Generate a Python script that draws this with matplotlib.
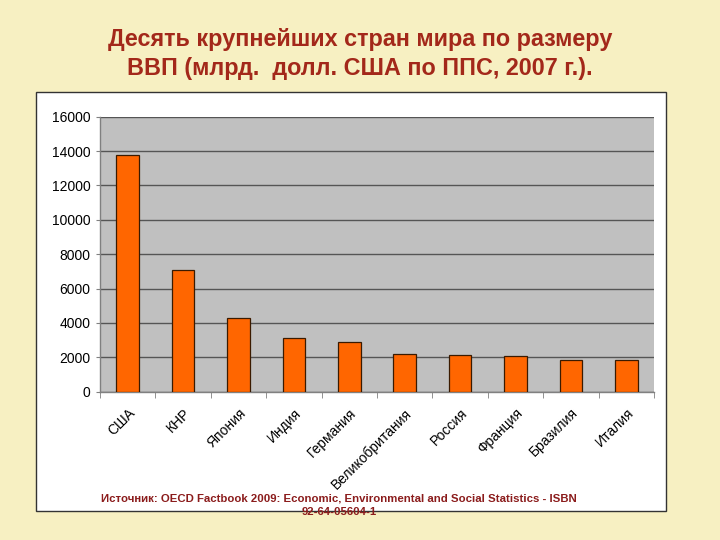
import matplotlib.pyplot as plt
from matplotlib.patches import Rectangle
import numpy as np

plt.rcParams["font.family"] = ["Liberation Sans", "DejaVu Sans"]

# GDP, bn USD at PPP, 2007
countries = ["США", "КНР", "Япония", "Индия", "Германия", "Великобритания",
             "Россия", "Франция", "Бразилия", "Италия"]
gdp = [13750, 7100, 4300, 3100, 2870, 2170, 2110, 2100, 1840, 1830]
yticks = [0, 2000, 4000, 6000, 8000, 10000, 12000, 14000, 16000]

BG = "#f7f0c2"
TITLE_C = "#a3281a"

fig = plt.figure(figsize=(7.2, 5.4), dpi=100, facecolor=BG)

# white chart frame
frame = Rectangle((36 / 720, 1 - 511 / 540), 630 / 720, 419 / 540,
                  transform=fig.transFigure, facecolor="white",
                  edgecolor="#333333", linewidth=1.0, zorder=-1)
fig.patches.append(frame)

ax = fig.add_axes([100 / 720, 1 - 391.7 / 540, 554 / 720, 275 / 540])
ax.set_zorder(2)
ax.set_facecolor("#c0c0c0")
x = np.arange(len(countries))
ax.bar(x, gdp, width=0.41, color="#ff6600", edgecolor="#3a1a00",
       linewidth=0.9, zorder=3)

ax.set_xlim(-0.5, len(countries) - 0.5)
ax.set_ylim(0, 16000)
ax.set_yticks(yticks)
ax.yaxis.grid(True, color="#555555", linewidth=1.0, zorder=1)
ax.set_axisbelow(True)

ax.set_xticks(x)
ax.set_xticklabels(countries, rotation=45, ha="right", va="top",
                   rotation_mode="anchor", fontsize=10)
ax.tick_params(axis="x", which="major", length=0, pad=10)
ax.set_xticks(np.arange(-0.5, len(countries)), minor=True)
ax.tick_params(axis="x", which="minor", length=4, color="#808080")
ax.tick_params(axis="y", length=3, color="#808080", labelsize=10, pad=4)

for s in ("top", "right"):
    ax.spines[s].set_visible(False)
for s in ("left", "bottom"):
    ax.spines[s].set_color("#808080")
    ax.spines[s].set_linewidth(1.0)

fig.text(0.5, 1 - 54 / 540,
         "Десять крупнейших стран мира по размеру\n"
         "ВВП (млрд.  долл. США по ППС, 2007 г.).",
         ha="center", va="center", fontsize=16.8, fontweight="bold",
         color=TITLE_C, linespacing=1.3)

fig.text(339 / 720, 1 - 505 / 540,
         "Источник: OECD Factbook 2009: Economic, Environmental and Social Statistics - ISBN\n"
         "92-64-05604-1",
         ha="center", va="center", fontsize=8.2, fontweight="bold",
         color="#8b1c1c", linespacing=1.45)

fig.savefig("out.png", dpi=100, facecolor=BG)
